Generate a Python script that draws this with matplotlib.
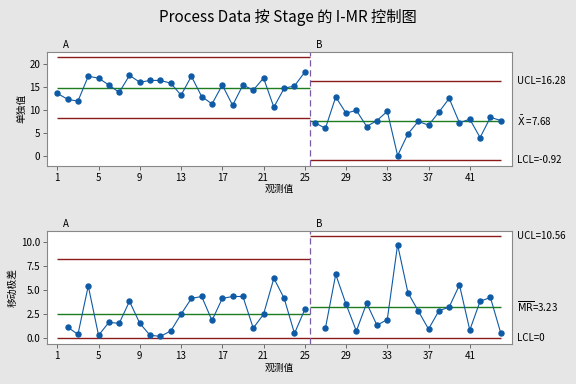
import matplotlib.pyplot as plt

plt.rcParams['font.family'] = ['Noto Sans CJK SC', 'DejaVu Sans']

# observations split by stage
obs_a = list(range(1, 26))
obs_b = list(range(26, 45))

ind_a = [13.6, 12.3, 11.9, 17.3, 16.9, 15.4, 13.8, 17.5, 16.0, 16.4, 16.4, 15.8,
         13.2, 17.3, 12.9, 11.3, 15.4, 11.0, 15.4, 14.3, 16.9, 10.6, 14.7, 15.2, 18.2]
ind_b = [7.2, 6.0, 12.8, 9.3, 9.9, 6.4, 7.7, 9.7, 0.1, 4.8, 7.5, 6.7, 9.5, 12.5,
         7.2, 8.0, 4.0, 8.4, 7.7]

# moving ranges (first point of each stage has none)
mr_a = [1.1, 0.35, 5.4, 0.25, 1.6, 1.5, 3.8, 1.5, 0.25, 0.15, 0.7, 2.45, 4.1, 4.3,
        1.8, 4.1, 4.3, 4.3, 1.0, 2.45, 6.2, 4.1, 0.45, 2.95]
mr_b = [1.0, 6.6, 3.5, 0.7, 3.6, 1.3, 1.9, 9.7, 4.7, 2.8, 0.9, 2.8, 3.2, 5.5, 0.8,
        3.8, 4.2, 0.5]

# control limits per stage: (LCL, center, UCL)
ind_lim_a = (8.17, 14.81, 21.45)
ind_lim_b = (-0.92, 7.68, 16.28)
mr_lim_a = (0.0, 2.50, 8.17)
mr_lim_b = (0.0, 3.23, 10.56)

xticks = [1, 5, 9, 13, 17, 21, 25, 29, 33, 37, 41]

blue = '#0f5aa5'
red = '#8b1a1a'
green = '#1e7b1e'
purple = '#7b5aa6'

fig = plt.figure(figsize=(5.76, 3.84), dpi=100, facecolor='#e6e6e6')
ax1 = fig.add_axes([0.0816, 0.5685, 0.8074, 0.2965])
ax2 = fig.add_axes([0.0816, 0.104, 0.8074, 0.295])

fig.text(0.5, 0.955, 'Process Data 按 Stage 的 I-MR 控制图', ha='center', va='center',
         fontsize=11)


def draw_stage(ax, x, y, lim, lo, hi):
    ax.plot(x, y, color=blue, lw=0.8, marker='o', ms=3.6, zorder=3)
    ax.hlines(lim[0], lo, hi, color=red, lw=1)
    ax.hlines(lim[1], lo, hi, color=green, lw=1)
    ax.hlines(lim[2], lo, hi, color=red, lw=1)


draw_stage(ax1, obs_a, ind_a, ind_lim_a, 1, 25.5)
draw_stage(ax1, obs_b, ind_b, ind_lim_b, 25.5, 44)
draw_stage(ax2, obs_a[1:], mr_a, mr_lim_a, 1, 25.5)
draw_stage(ax2, obs_b[1:], mr_b, mr_lim_b, 25.5, 44)

for ax in (ax1, ax2):
    ax.axvline(25.5, color=purple, lw=0.9, ls=(0, (5, 3)))
    ax.set_xlim(0, 45.1)
    ax.set_xticks(xticks)
    ax.tick_params(labelsize=7, length=3, width=0.6, color='#555555', pad=2)
    for s in ax.spines.values():
        s.set_color('#888888')
        s.set_linewidth(0.8)
    ax.set_xlabel('观测值', fontsize=7, labelpad=1)
    # stage labels above each section
    ax.text(0.035, 1.02, 'A', transform=ax.transAxes, fontsize=7, va='bottom')
    ax.text(0.578, 1.02, 'B', transform=ax.transAxes, fontsize=7, va='bottom')

ax1.set_ylim(-2.1, 22.6)
ax1.set_yticks([0, 5, 10, 15, 20])
ax1.set_ylabel('单独值', fontsize=7, labelpad=2)
ax2.set_ylim(-0.66, 11.15)
ax2.set_yticks([0, 2.5, 5, 7.5, 10])
ax2.set_yticklabels(['0.0', '2.5', '5.0', '7.5', '10.0'])
ax2.set_ylabel('移动极差', fontsize=7, labelpad=2)

# limit labels on the right
ax1.text(45.6, ind_lim_b[2], 'UCL=16.28', fontsize=7, va='center', clip_on=False)
ax1.text(45.6, ind_lim_b[1], r'$\bar{\mathrm{X}}$ =7.68', fontsize=7, va='center', clip_on=False)
ax1.text(45.6, ind_lim_b[0], 'LCL=-0.92', fontsize=7, va='center', clip_on=False)
ax2.text(45.6, mr_lim_b[2], 'UCL=10.56', fontsize=7, va='center', clip_on=False)
ax2.text(45.6, mr_lim_b[1], r'$\overline{\mathrm{MR}}$=3.23', fontsize=7, va='center', clip_on=False)
ax2.text(45.6, mr_lim_b[0], 'LCL=0', fontsize=7, va='center', clip_on=False)

fig.savefig('out.png', dpi=100, facecolor=fig.get_facecolor())
